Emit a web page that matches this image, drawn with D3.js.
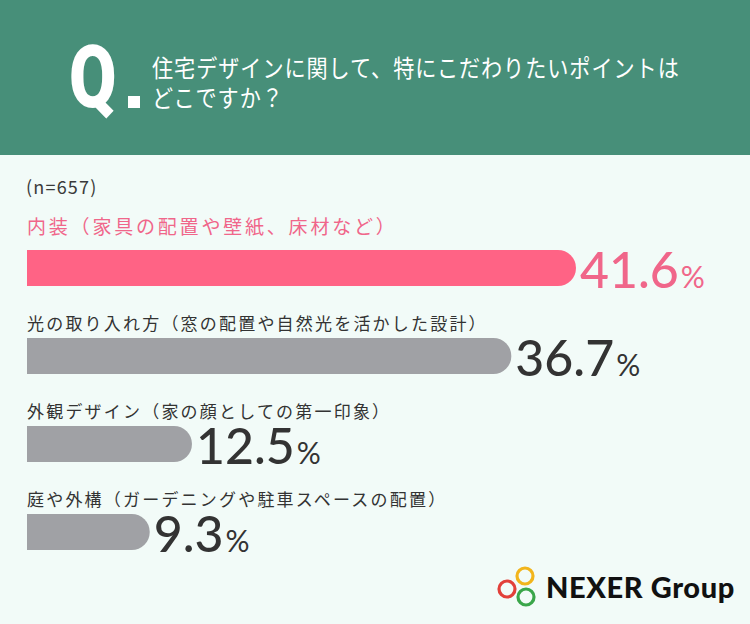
<!DOCTYPE html>
<html><head><meta charset="utf-8">
<script src="https://cdn.jsdelivr.net/npm/d3@7"></script>
<style>
html,body{margin:0;padding:0;background:#f2fbf8;}
svg{display:block;}
</style></head>
<body>
<svg id="chart" width="750" height="624"></svg>
<script>
const titleLines = ["住宅デザインに関して、特にこだわりたいポイントは", "どこですか？"];
const sampleNote = "(n=657)";
const categories = [
  "内装（家具の配置や壁紙、床材など）",
  "光の取り入れ方（窓の配置や自然光を活かした設計）",
  "外観デザイン（家の顔としての第一印象）",
  "庭や外構（ガーデニングや駐車スペースの配置）"
];
const values = [41.6, 36.7, 12.5, 9.3];
const brand = "NEXER Group";

const W = 750, H = 624;
const svg = d3.select("#chart");
const jp = "'Noto Sans CJK JP', sans-serif";

// background
svg.append("rect").attr("width", W).attr("height", H).attr("fill", "#f2fbf8");
svg.append("rect").attr("width", W).attr("height", 155).attr("fill", "#478f79");

// header Q.
svg.append("text").attr("transform", "translate(69,107) scale(0.78,1)")
  .attr("font-family", "Roboto, sans-serif").attr("font-weight", 900)
  .attr("font-size", 88).attr("fill", "#ffffff").text("Q");
svg.append("rect").attr("x", 128).attr("y", 96).attr("width", 12).attr("height", 12).attr("fill", "#ffffff");
svg.append("text")
  .attr("transform", "translate(152,77) scale(0.88,1)")
  .attr("font-family", jp).attr("font-size", 24).attr("fill", "#ffffff")
  .attr("letter-spacing", 1.1)
  .selectAll("tspan").data(titleLines).join("tspan")
  .attr("x", 0).attr("y", (d, i) => i * 30)
  .text(d => d);

// n note
svg.append("text").attr("x", 26).attr("y", 194)
  .attr("font-family", jp).attr("font-size", 18).attr("fill", "#3a3a3a")
  .attr("letter-spacing", 1.2)
  .text(sampleNote);

// scales
const x = d3.scaleLinear().domain([0, 41.6]).range([27, 576]);
const y = d3.scalePoint().domain(categories).range([268, 532]);
const barH = 36;
const colors = categories.map((c, i) => i === 0 ? "#ff6385" : "#a0a1a5");
const textColors = categories.map((c, i) => i === 0 ? "#f0668a" : "#333333");

function barPath(v) {
  const x0 = x(0), x1 = x(v), r = barH / 2;
  return `M${x0},${-r} H${x1 - r} A${r},${r} 0 0 1 ${x1},0 A${r},${r} 0 0 1 ${x1 - r},${r} H${x0} Z`;
}

const rows = svg.append("g").selectAll("g").data(categories).join("g")
  .attr("transform", d => `translate(0,${y(d)})`);

rows.append("path").attr("d", (d, i) => barPath(values[i])).attr("fill", (d, i) => colors[i]);

rows.append("text")
  .attr("x", 27)
  .attr("y", (d, i) => i === 0 ? -barH / 2 - 16 : -barH / 2 - 8)
  .attr("font-family", jp)
  .attr("font-size", (d, i) => i === 0 ? 19 : 17)
  .attr("letter-spacing", (d, i) => i === 0 ? 2.8 : 2.2)
  .attr("fill", (d, i) => textColors[i])
  .text(d => d);

const vt = rows.append("text")
  .attr("x", (d, i) => x(values[i]) + 4)
  .attr("y", 20)
  .attr("font-family", "Lato, sans-serif")
  .attr("fill", (d, i) => textColors[i]);
vt.append("tspan").attr("font-size", 50).attr("font-weight", 500).text((d, i) => values[i].toFixed(1));
vt.append("tspan").attr("font-size", 30).attr("dx", 2).text("%");

// logo
const logo = svg.append("g");
[[525, 576, "#f2b51c"], [507, 589, "#e2403a"], [526, 597, "#3aa64a"]].forEach(c => {
  logo.append("circle").attr("cx", c[0]).attr("cy", c[1]).attr("r", 8)
    .attr("fill", "none").attr("stroke", c[2]).attr("stroke-width", 3.2);
});
logo.append("text").attr("x", 546).attr("y", 598)
  .attr("font-family", "Lato, sans-serif").attr("font-weight", 900)
  .attr("font-size", 29).attr("letter-spacing", 0.6).attr("fill", "#111111").text(brand);
</script>
</body></html>
